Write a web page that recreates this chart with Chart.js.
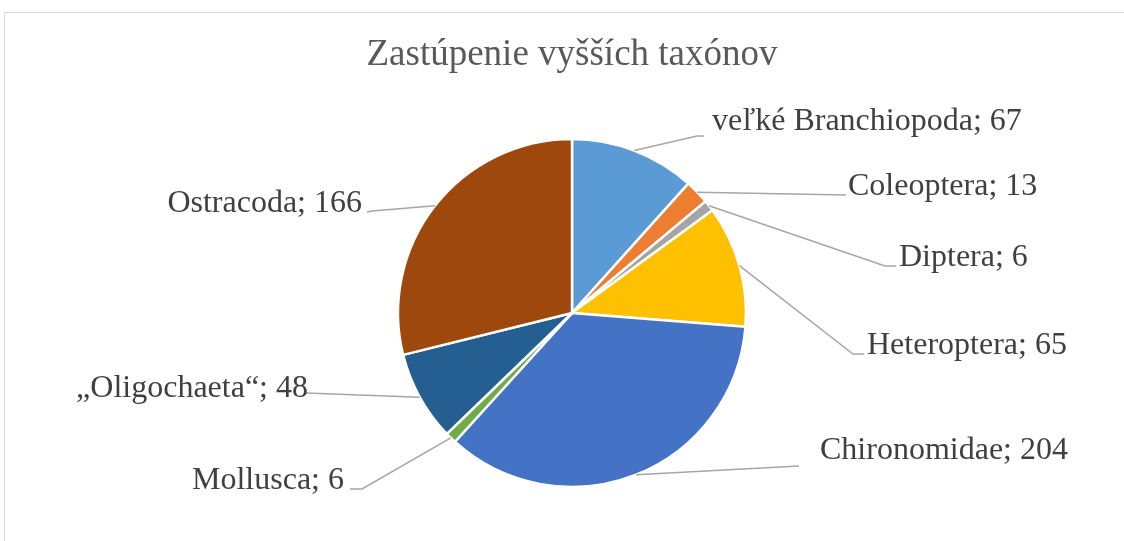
<!DOCTYPE html>
<html>
<head>
<meta charset="utf-8">
<script src="https://cdn.jsdelivr.net/npm/chart.js@4"></script>
<style>
html,body{margin:0;padding:0;background:#fff;}
#wrap{width:1124px;height:541px;position:relative;}
</style>
</head>
<body>
<div id="wrap"><canvas id="c" width="1124" height="541"></canvas></div>
<script>
const categories = ["veľké Branchiopoda", "Coleoptera", "Diptera", "Heteroptera", "Chironomidae", "Mollusca", "„Oligochaeta“", "Ostracoda"];
const counts = [67, 13, 6, 65, 204, 6, 48, 166];
const sliceColors = ["#5B9BD5", "#ED7D31", "#A5A5A5", "#FFC000", "#4472C4", "#70AD47", "#255E91", "#9E480E"];
const chartTitle = "Zastúpenie vyšších taxónov";

// label layout: elbow point, tail end, text anchor
const labelLayout = [
  {elbow:[697,136], tail:[704,136], tx:712, ty:130, align:"left"},
  {elbow:[846,195], tail:[846,195], tx:848, ty:195, align:"left"},
  {elbow:[885,266], tail:[896,266], tx:899, ty:266, align:"left"},
  {elbow:[853,354], tail:[864,354], tx:867, ty:354, align:"left"},
  {elbow:[799,466], tail:[799,466], tx:820, ty:459, align:"left"},
  {elbow:[362,489], tail:[350,489], tx:344, ty:489, align:"right"},
  {elbow:[306,393], tail:[306,393], tx:308, ty:397, align:"right"},
  {elbow:[372,211], tail:[367,212], tx:362, ty:212, align:"right"}
];

const frameAndLabels = {
  id: "frameAndLabels",
  beforeDraw(chart) {
    const ctx = chart.ctx;
    ctx.save();
    ctx.strokeStyle = "#D9D9D9";
    ctx.lineWidth = 1;
    ctx.beginPath();
    ctx.moveTo(4.5, 541);
    ctx.lineTo(4.5, 12.5);
    ctx.lineTo(1124, 12.5);
    ctx.stroke();
    ctx.restore();
  },
  afterDatasetsDraw(chart) {
    const ctx = chart.ctx;
    const meta = chart.getDatasetMeta(0);
    ctx.save();
    meta.data.forEach((arc, i) => {
      const p = arc.getProps(["x","y","startAngle","endAngle","outerRadius"], true);
      const mid = (p.startAngle + p.endAngle) / 2;
      const sx = p.x + Math.cos(mid) * p.outerRadius;
      const sy = p.y + Math.sin(mid) * p.outerRadius;
      const L = labelLayout[i];
      ctx.strokeStyle = "#A6A6A6";
      ctx.lineWidth = 1.5;
      ctx.beginPath();
      ctx.moveTo(sx, sy);
      ctx.lineTo(L.elbow[0], L.elbow[1]);
      ctx.lineTo(L.tail[0], L.tail[1]);
      ctx.stroke();
      ctx.fillStyle = "#404040";
      ctx.font = "32px 'Liberation Serif', 'Times New Roman', serif";
      ctx.textAlign = L.align;
      ctx.textBaseline = "alphabetic";
      ctx.fillText(categories[i] + "; " + counts[i], L.tx, L.ty);
    });
    ctx.restore();
  }
};

new Chart(document.getElementById("c"), {
  type: "pie",
  data: {
    labels: categories,
    datasets: [{
      data: counts,
      backgroundColor: sliceColors,
      borderColor: "#FFFFFF",
      borderWidth: 2.5
    }]
  },
  options: {
    responsive: false,
    animation: false,
    radius: 174,
    layout: { padding: { left: 20, right: 0, top: 0, bottom: 54 } },
    plugins: {
      legend: { display: false },
      tooltip: { enabled: false },
      title: {
        display: true,
        text: chartTitle,
        color: "#595959",
        font: { family: "'Liberation Serif', 'Times New Roman', serif", size: 37, weight: "normal", lineHeight: 1.2 },
        padding: { top: 33, bottom: 61.6 }
      }
    }
  },
  plugins: [frameAndLabels]
});
</script>
</body>
</html>
